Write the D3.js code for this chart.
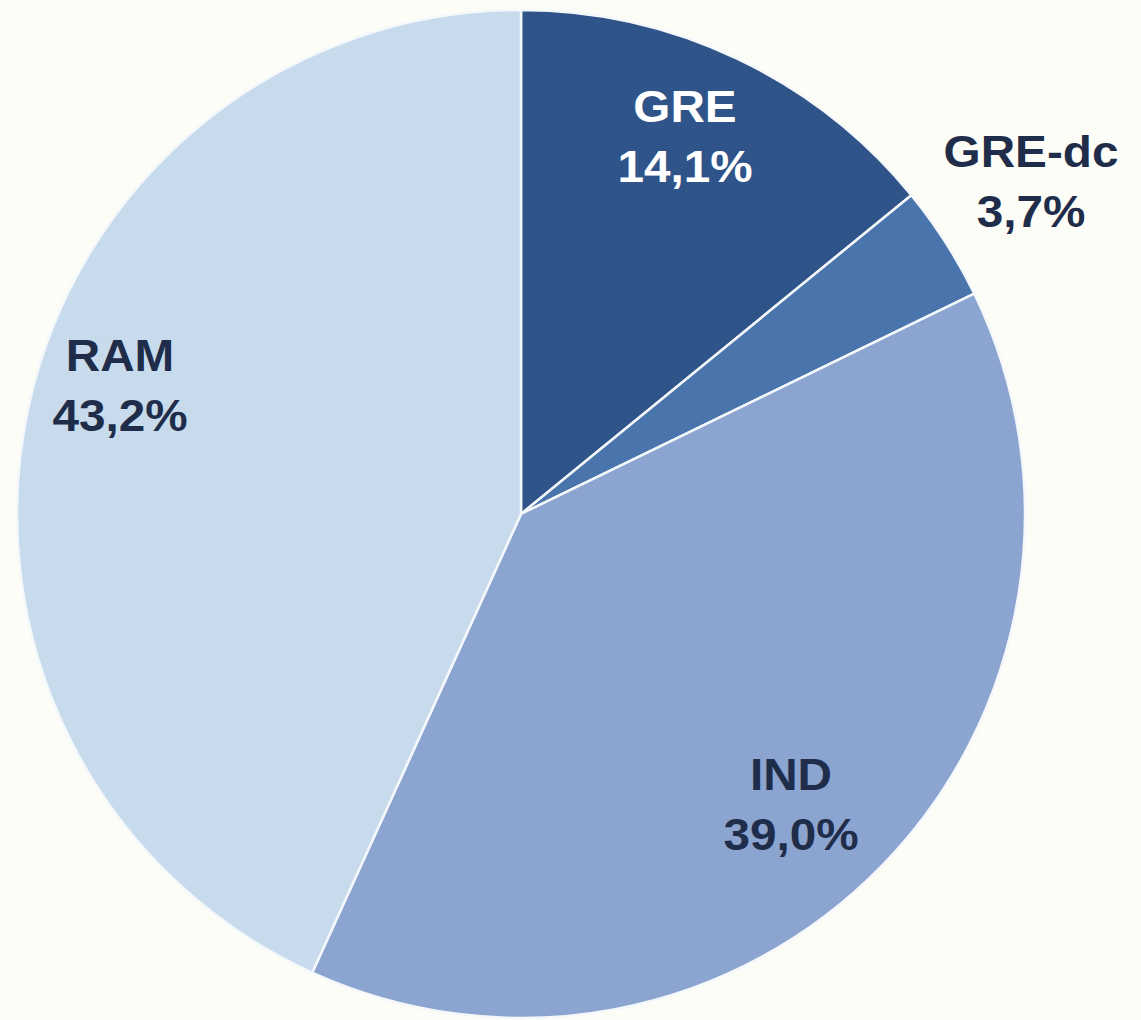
<!DOCTYPE html>
<html>
<head>
<meta charset="utf-8">
<script src="https://cdn.jsdelivr.net/npm/d3@7"></script>
<style>
  html, body { margin: 0; padding: 0; background: #fdfdf8; }
  svg { display: block; }
  text { font-family: "Liberation Sans", Arial, sans-serif; font-weight: bold; }
</style>
</head>
<body>
<svg id="chart" width="1141" height="1020"></svg>
<script>
// Share of each category, clockwise from 12 o'clock
const categories = ["GRE", "GRE-dc", "IND", "RAM"];
const shares = [14.1, 3.7, 39.0, 43.2];
const sliceColors = ["#2f5489", "#4a74ac", "#8ca4d0", "#c7dbec"];
const labelColors = ["#ffffff", "#1f2d4b", "#1f2d4b", "#1f2d4b"];
// Label anchor points (centre of the two-line label), in pixels
const labelPos = [[685, 152], [1031, 197], [791, 820], [120, 401]];

const svg = d3.select("#chart");
const cx = 521, cy = 514, r = 504;

const data = categories.map((c, i) => ({ name: c, value: shares[i], i }));

const pie = d3.pie().sort(null).value(d => d.value);
const arc = d3.arc().innerRadius(0).outerRadius(r);

const g = svg.append("g").attr("transform", `translate(${cx},${cy})`);

g.selectAll("path")
  .data(pie(data))
  .join("path")
  .attr("d", arc)
  .attr("fill", d => sliceColors[d.data.i])
  .attr("stroke", "#f4f8fb")
  .attr("stroke-width", 2.5)
  .attr("stroke-linejoin", "round");

const fmt = v => d3.format(".1f")(v).replace(".", ",") + "%";

const labels = svg.selectAll("g.label")
  .data(data)
  .join("g")
  .attr("class", "label")
  .attr("transform", d => `translate(${labelPos[d.i][0]},${labelPos[d.i][1]}) scale(1.06,1)`);

labels.append("text")
  .attr("text-anchor", "middle")
  .attr("y", -30)
  .attr("font-size", 45)
  .attr("fill", d => labelColors[d.i])
  .text(d => d.name);

labels.append("text")
  .attr("text-anchor", "middle")
  .attr("y", 30)
  .attr("font-size", 45)
  .attr("fill", d => labelColors[d.i])
  .text(d => fmt(d.value));
</script>
</body>
</html>
